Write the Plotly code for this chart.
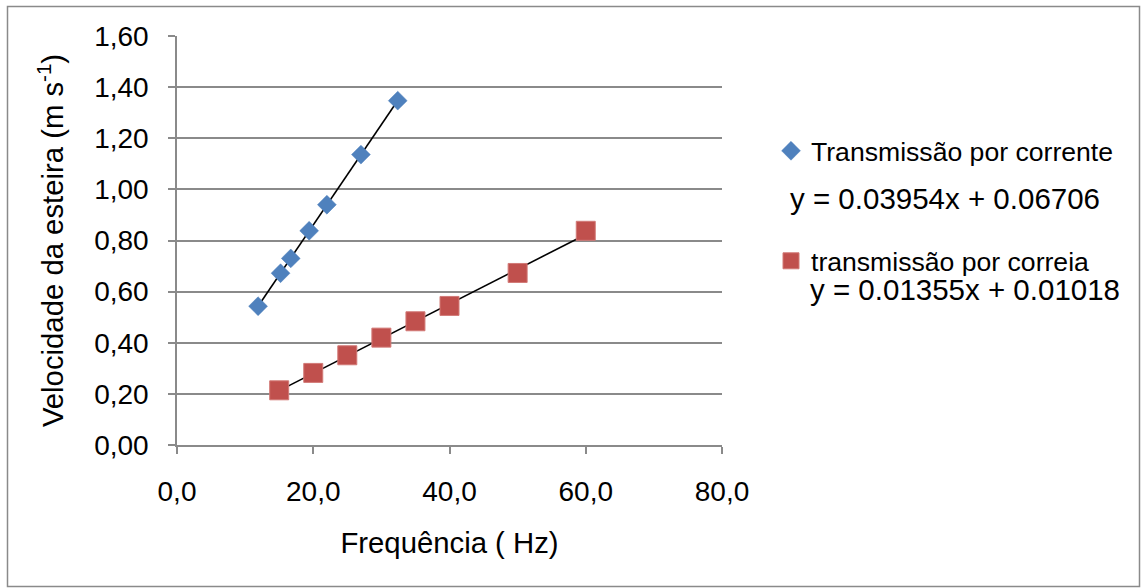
import numpy as np
import plotly.graph_objects as go

# ---- data ----
freq_corrente = [11.9, 15.2, 16.7, 19.4, 22.0, 27.0, 32.4]
vel_corrente = [0.543, 0.672, 0.730, 0.838, 0.940, 1.136, 1.347]

freq_correia = [15, 20, 25, 30, 35, 40, 50, 60]
vel_correia = [0.214, 0.282, 0.351, 0.420, 0.484, 0.544, 0.673, 0.838]

name_corrente = "Transmissão por corrente"
name_correia = "transmissão por correia"
eq_corrente = "y = 0.03954x + 0.06706"
eq_correia = "y = 0.01355x + 0.01018"

x_ticks = [0, 20, 40, 60, 80]
x_tick_labels = ["0,0", "20,0", "40,0", "60,0", "80,0"]
y_ticks = [0, 0.2, 0.4, 0.6, 0.8, 1.0, 1.2, 1.4, 1.6]
y_tick_labels = ["0,00", "0,20", "0,40", "0,60", "0,80", "1,00", "1,20", "1,40", "1,60"]

BLUE = "#4f81bd"
RED = "#c0504d"
GRID = "#8a8a8a"
FONT = "Liberation Sans, Arial, sans-serif"
FS = 28          # tick labels
FS_TITLE = 29.3  # axis titles
FS_LEG = 26.6    # legend names
FS_EQ = 29.5     # equations

W, H = 1141, 588
L, R, T, B = 177, 722, 36, 445   # plot area in pixels


def px_x(p):
    return (p - L) / (R - L)


def px_y(p):
    return (B - p) / (B - T)


fig = go.Figure()

# trendlines
for xs, ys in ((freq_corrente, vel_corrente), (freq_correia, vel_correia)):
    m, c = np.polyfit(xs, ys, 1)
    xl = np.array([min(xs), max(xs)])
    fig.add_trace(go.Scatter(x=xl, y=m * xl + c, mode="lines",
                             line=dict(color="black", width=1.6),
                             showlegend=False, hoverinfo="skip"))

fig.add_trace(go.Scatter(
    x=freq_corrente, y=vel_corrente, mode="markers", name=name_corrente,
    marker=dict(symbol="diamond", size=14.5, color=BLUE,
                line=dict(width=0.5, color=BLUE)),
    legend="legend"))
fig.add_trace(go.Scatter(
    x=freq_correia, y=vel_correia, mode="markers", name=name_correia,
    marker=dict(symbol="square", size=19, color=RED,
                line=dict(width=1, color="#d27a77")),
    legend="legend2"))

legend_common = dict(font=dict(family=FONT, size=FS_LEG, color="black"),
                     bgcolor="rgba(0,0,0,0)", borderwidth=0,
                     xanchor="left", yanchor="middle", itemwidth=30)

fig.update_layout(
    width=W, height=H, autosize=False,
    margin=dict(l=L, r=W - R, t=T, b=H - B, pad=0),
    paper_bgcolor="white", plot_bgcolor="white",
    font=dict(family=FONT, size=FS, color="black"),
    legend=dict(x=px_x(771), y=px_y(151), **legend_common),
    legend2=dict(x=px_x(771), y=px_y(261), **legend_common),
    xaxis=dict(range=[0, 80], tickvals=x_ticks, ticktext=x_tick_labels,
               showgrid=False, zeroline=False, showline=True,
               linecolor=GRID, linewidth=1.5, ticks="outside", ticklen=7,
               tickcolor=GRID, tickwidth=1.5, ticklabelstandoff=14,
               tickfont=dict(family=FONT, size=FS, color="black"),
               title=dict(text="Frequência ( Hz)", standoff=26,
                          font=dict(family=FONT, size=FS_TITLE, color="black"))),
    yaxis=dict(range=[0, 1.6], tickvals=y_ticks, ticktext=y_tick_labels,
               showgrid=True, gridcolor=GRID, gridwidth=1.5,
               zeroline=False, showline=True,
               linecolor=GRID, linewidth=1.5, ticks="outside", ticklen=7,
               tickcolor=GRID, tickwidth=1.5, ticklabelstandoff=14,
               tickfont=dict(family=FONT, size=FS, color="black"),
               title=dict(text="Velocidade da esteira (m s<sup>-1</sup>)",
                          standoff=22,
                          font=dict(family=FONT, size=FS_TITLE, color="black"))),
    annotations=[
        dict(text=eq_corrente, xref="paper", yref="paper",
             x=px_x(788), y=px_y(198), xanchor="left", yanchor="middle",
             showarrow=False, font=dict(family=FONT, size=FS_EQ, color="black")),
        dict(text=eq_correia, xref="paper", yref="paper",
             x=px_x(808), y=px_y(289), xanchor="left", yanchor="middle",
             showarrow=False, font=dict(family=FONT, size=FS_EQ, color="black")),
    ],
    shapes=[dict(type="rect", xref="paper", yref="paper",
                 x0=px_x(7.5), x1=px_x(1139.5), y0=px_y(586.5), y1=px_y(6.5),
                 line=dict(color="#8a8a8a", width=1.5), fillcolor="rgba(0,0,0,0)",
                 layer="below")],
)

fig.write_html("out.html")
